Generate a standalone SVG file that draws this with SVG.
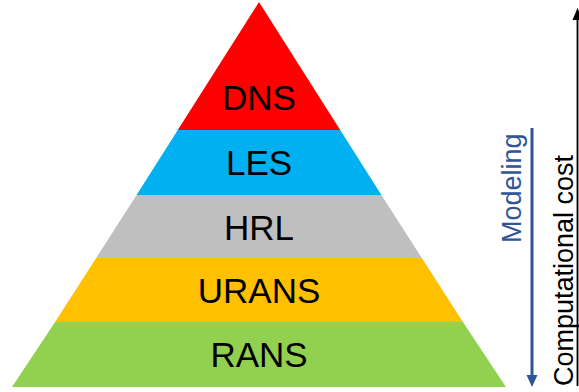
<svg xmlns="http://www.w3.org/2000/svg" width="579" height="392" viewBox="0 0 579 392">
  <style>
    .lbl { font-family: "Liberation Sans", Arial, sans-serif; font-size: 35px; fill: #000; text-anchor: middle; }
    .side { font-family: "Liberation Sans", Arial, sans-serif; font-size: 27px; }
  </style>
  <rect width="579" height="392" fill="#fff"/>

  <!-- pyramid layers, apex (259,2), base 12..506 at y=387 -->
  <g id="dns">
    <polygon points="259,2 340.2,130 177.8,130" fill="#FF0000"/>
    <text class="lbl" x="259" y="110">DNS</text>
  </g>
  <g id="les">
    <polygon points="177.8,130 340.2,130 381.4,195 136.6,195" fill="#00B0F0"/>
    <text class="lbl" x="259" y="175">LES</text>
  </g>
  <g id="hrl">
    <polygon points="136.6,195 381.4,195 421.8,258 96.2,258" fill="#BFBFBF"/>
    <text class="lbl" x="259" y="240">HRL</text>
  </g>
  <g id="urans">
    <polygon points="96.2,258 421.8,258 462.9,322 55.1,322" fill="#FFC000"/>
    <text class="lbl" x="259" y="303">URANS</text>
  </g>
  <g id="rans">
    <polygon points="55.1,322 462.9,322 506,387 12,387" fill="#92D050"/>
    <text class="lbl" x="259" y="367">RANS</text>
  </g>

  <g id="connectors">
    <!-- modeling direction -->
    <line x1="532" y1="128" x2="532" y2="376" stroke="#2F5597" stroke-width="3"/>
    <polygon points="526.5,375 537.5,375 532,387" fill="#2F5597"/>
    <!-- computational cost axis -->
    <line x1="577.5" y1="386" x2="577.5" y2="18" stroke="#000" stroke-width="1.8"/>
    <polygon points="572.5,20 582.5,20 577.5,8" fill="#000"/>
  </g>

  <g id="modeling">
    <text class="side" fill="#2F5597" transform="translate(521,243) rotate(-90)">Modeling</text>
  </g>
  <g id="cost">
    <text class="side" fill="#000" transform="translate(573,386) rotate(-90)">Computational cost</text>
  </g>
</svg>
